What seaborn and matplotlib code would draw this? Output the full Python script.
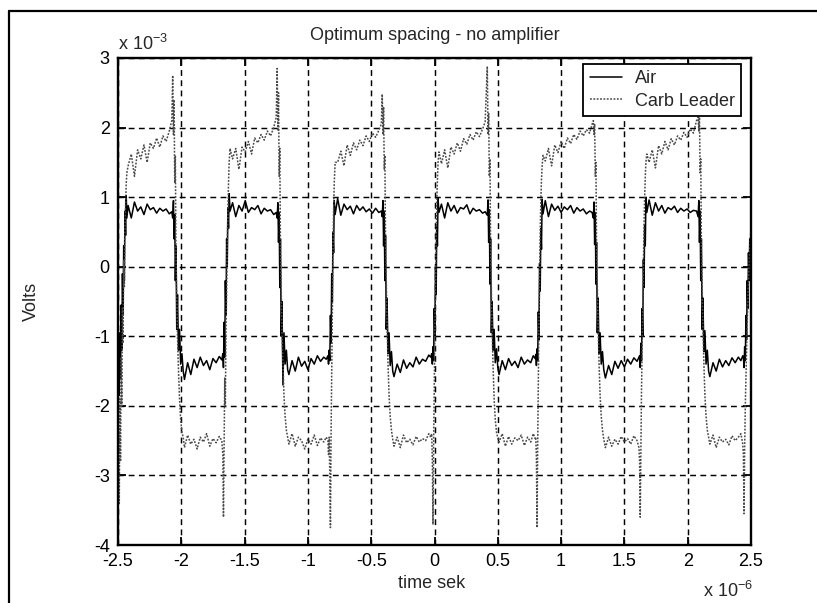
import numpy as np
import pandas as pd
import matplotlib
matplotlib.use("Agg")
import matplotlib.pyplot as plt
import seaborn as sns
from matplotlib.lines import Line2D

# ---------------- data ----------------
TITLE = "Optimum spacing - no amplifier"
X_LABEL = "time sek"
Y_LABEL = "Volts"
SERIES = ["Air", "Carb Leader"]
X_TICKS = [-2.5, -2.0, -1.5, -1.0, -0.5, 0.0, 0.5, 1.0, 1.5, 2.0, 2.5]
X_TICK_LABELS = ["-2.5", "-2", "-1.5", "-1", "-0.5", "0", "0.5", "1", "1.5", "2", "2.5"]
Y_TICKS = [-4, -3, -2, -1, 0, 1, 2, 3]
Y_TICK_LABELS = ["-4", "-3", "-2", "-1", "0", "1", "2", "3"]
X_EXPONENT = "-6"
Y_EXPONENT = "-3"

# time in microseconds (x 10^-6 s)
time_us = [
    -2.500, -2.495, -2.490, -2.485, -2.480, -2.475, -2.470, -2.465, -2.460, -2.455, -2.450, -2.445, -2.440, -2.435, -2.430,
    -2.420, -2.395, -2.370, -2.345, -2.320, -2.295, -2.270, -2.245, -2.220, -2.195, -2.170, -2.145, -2.120, -2.095, -2.075,
    -2.068, -2.062, -2.057, -2.052, -2.047, -2.042, -2.036, -2.030, -2.022, -2.014, -2.005, -1.995, -1.985,
    -1.975, -1.950, -1.925, -1.900, -1.875, -1.850, -1.825, -1.800, -1.775, -1.750, -1.725, -1.700, -1.680,
    -1.672, -1.667, -1.662, -1.657, -1.652, -1.647, -1.642, -1.637, -1.632, -1.627, -1.622, -1.615,
    -1.595, -1.570, -1.545, -1.520, -1.495, -1.470, -1.445, -1.420, -1.395, -1.370, -1.345, -1.320, -1.295, -1.270, -1.250,
    -1.243, -1.237, -1.232, -1.227, -1.222, -1.217, -1.211, -1.205, -1.197, -1.189, -1.180, -1.170, -1.160,
    -1.150, -1.125, -1.100, -1.075, -1.050, -1.025, -1.000, -0.975, -0.950, -0.925, -0.900, -0.875, -0.855,
    -0.842, -0.837, -0.832, -0.827, -0.822, -0.817, -0.812, -0.807, -0.802, -0.797, -0.792, -0.785,
    -0.765, -0.740, -0.715, -0.690, -0.665, -0.640, -0.615, -0.590, -0.565, -0.540, -0.515, -0.490, -0.465, -0.440, -0.420,
    -0.413, -0.407, -0.402, -0.397, -0.392, -0.387, -0.381, -0.375, -0.367, -0.359, -0.350, -0.340, -0.330,
    -0.320, -0.295, -0.270, -0.245, -0.220, -0.195, -0.170, -0.145, -0.120, -0.095, -0.070, -0.045, -0.030,
    -0.022, -0.017, -0.012, -0.007, -0.002, 0.003, 0.008, 0.013, 0.018, 0.023, 0.028, 0.035,
    0.055, 0.080, 0.105, 0.130, 0.155, 0.180, 0.205, 0.230, 0.255, 0.280, 0.305, 0.330, 0.355, 0.380, 0.400,
    0.417, 0.423, 0.428, 0.433, 0.438, 0.443, 0.449, 0.455, 0.463, 0.471, 0.480, 0.490, 0.500,
    0.510, 0.535, 0.560, 0.585, 0.610, 0.635, 0.660, 0.685, 0.710, 0.735, 0.760, 0.780, 0.795,
    0.800, 0.805, 0.810, 0.815, 0.820, 0.825, 0.830, 0.835, 0.840, 0.845, 0.850, 0.857,
    0.875, 0.900, 0.925, 0.950, 0.975, 1.000, 1.025, 1.050, 1.075, 1.100, 1.125, 1.150, 1.175, 1.200, 1.225, 1.245,
    1.255, 1.260, 1.265, 1.270, 1.275, 1.280, 1.286, 1.292, 1.300, 1.308, 1.317, 1.327, 1.337,
    1.350, 1.375, 1.400, 1.425, 1.450, 1.475, 1.500, 1.525, 1.550, 1.575, 1.600, 1.615,
    1.620, 1.625, 1.630, 1.635, 1.640, 1.645, 1.650, 1.655, 1.660, 1.665, 1.670, 1.677,
    1.695, 1.720, 1.745, 1.770, 1.795, 1.820, 1.845, 1.870, 1.895, 1.920, 1.945, 1.970, 1.995, 2.020, 2.045, 2.070,
    2.082, 2.088, 2.093, 2.098, 2.103, 2.108, 2.114, 2.120, 2.128, 2.136, 2.145, 2.155, 2.165,
    2.175, 2.200, 2.225, 2.250, 2.275, 2.300, 2.325, 2.350, 2.375, 2.400, 2.420, 2.435,
    2.440, 2.445, 2.450, 2.455, 2.460, 2.465, 2.470, 2.475, 2.480, 2.485, 2.490, 2.495, 2.500,
]

# voltage in millivolts (x 10^-3 V)
air_mv = [
    -1.75, -1.10, -1.85, -0.95, -1.60, -0.55, -1.20, -0.10, -0.70, 0.30, -0.20, 0.80, 0.45, 1.02, 0.70,
    0.88, 0.70, 0.93, 0.80, 0.86, 0.75, 0.90, 0.82, 0.85, 0.77, 0.84, 0.80, 0.83, 0.76, 0.79,
    0.70, 0.95, 0.40, 0.75, -0.20, 0.30, -0.90, -0.40, -1.20, -0.90, -1.40, -1.25, -1.50,
    -1.62, -1.38, -1.55, -1.33, -1.45, -1.30, -1.42, -1.35, -1.48, -1.32, -1.38, -1.29, -1.34,
    -1.25, -1.45, -0.80, -1.30, -0.20, -0.70, 0.40, 0.00, 0.85, 0.55, 1.05, 0.80,
    0.92, 0.72, 0.88, 0.80, 0.95, 0.78, 0.85, 0.82, 0.88, 0.76, 0.84, 0.80, 0.82, 0.75, 0.78,
    0.70, 0.92, 0.35, 0.78, -0.30, 0.40, -1.00, -0.50, -1.70, -0.95, -1.40, -1.20, -1.48,
    -1.55, -1.35, -1.50, -1.30, -1.43, -1.36, -1.48, -1.32, -1.40, -1.28, -1.36, -1.30, -1.33,
    -1.28, -1.40, -1.20, -1.35, -0.70, -1.10, -0.10, -0.50, 0.50, 0.20, 0.95, 0.75,
    0.98, 0.74, 0.90, 0.82, 0.87, 0.76, 0.88, 0.81, 0.86, 0.79, 0.83, 0.77, 0.84, 0.78, 0.80,
    0.72, 0.95, 0.30, 0.80, -0.20, 0.45, -0.90, -0.45, -1.25, -0.95, -1.42, -1.22, -1.50,
    -1.58, -1.40, -1.52, -1.34, -1.46, -1.38, -1.44, -1.30, -1.40, -1.33, -1.36, -1.27, -1.30,
    -1.25, -1.40, -1.15, -1.35, -0.60, -1.00, 0.00, -0.40, 0.60, 0.30, 0.98, 0.78,
    0.90, 0.70, 0.92, 0.80, 0.88, 0.77, 0.85, 0.83, 0.89, 0.76, 0.84, 0.80, 0.82, 0.77, 0.79,
    0.74, 0.96, 0.35, 0.82, -0.25, 0.40, -0.95, -0.50, -1.20, -0.90, -1.38, -1.18, -1.45,
    -1.55, -1.35, -1.48, -1.32, -1.42, -1.36, -1.45, -1.30, -1.40, -1.34, -1.38, -1.28, -1.32,
    -1.26, -1.42, -1.18, -1.35, -0.65, -1.05, 0.05, -0.35, 0.55, 0.25, 0.97, 0.76,
    0.95, 0.72, 0.90, 0.81, 0.87, 0.78, 0.86, 0.82, 0.88, 0.77, 0.85, 0.80, 0.83, 0.76, 0.80, 0.78,
    0.70, 0.93, 0.32, 0.78, -0.25, 0.35, -0.95, -0.45, -1.25, -0.95, -1.40, -1.22, -1.48,
    -1.60, -1.42, -1.55, -1.36, -1.46, -1.35, -1.44, -1.33, -1.40, -1.31, -1.36, -1.30,
    -1.28, -1.45, -1.10, -1.35, -0.60, -1.00, 0.10, -0.30, 0.60, 0.30, 1.00, 0.78,
    0.96, 0.74, 0.92, 0.80, 0.88, 0.77, 0.85, 0.82, 0.87, 0.78, 0.84, 0.80, 0.83, 0.78, 0.81, 0.80,
    0.72, 0.95, 0.35, 0.80, -0.20, 0.40, -0.90, -0.45, -1.22, -0.92, -1.40, -1.20, -1.50,
    -1.58, -1.38, -1.50, -1.33, -1.44, -1.35, -1.42, -1.31, -1.38, -1.30, -1.35, -1.28,
    -1.30, -1.45, -1.15, -1.35, -0.70, -1.05, -0.20, -0.60, 0.20, -0.20, 0.40, 0.10, 0.30,
]

carb_mv = [
    -3.10, -2.40, -3.40, -1.90, -2.80, -1.30, -2.00, -0.60, -1.10, 0.10, -0.30, 0.60, 0.90, 1.20, 1.35,
    1.45, 1.62, 1.30, 1.68, 1.55, 1.75, 1.50, 1.78, 1.70, 1.85, 1.72, 1.88, 1.80, 1.95, 2.10,
    2.75, 1.90, 2.40, 1.20, 1.60, 0.20, -0.40, -1.00, -1.50, -1.90, -2.20, -2.38, -2.45,
    -2.60, -2.42, -2.55, -2.48, -2.62, -2.45, -2.52, -2.40, -2.58, -2.47, -2.53, -2.44, -2.50,
    -2.70, -3.60, -2.60, -1.60, -2.00, -0.90, -0.40, 0.30, 0.80, 1.20, 1.50, 1.70,
    1.55, 1.70, 1.40, 1.72, 1.65, 1.80, 1.62, 1.85, 1.78, 1.90, 1.82, 1.95, 1.88, 2.00, 2.15,
    2.85, 1.95, 2.50, 1.30, 1.70, 0.30, -0.30, -0.90, -1.40, -1.85, -2.15, -2.35, -2.45,
    -2.55, -2.40, -2.58, -2.45, -2.50, -2.62, -2.48, -2.55, -2.42, -2.57, -2.46, -2.52, -2.45,
    -2.50, -2.70, -2.45, -3.00, -3.75, -2.40, -1.50, -0.70, 0.20, 0.80, 1.20, 1.50,
    1.50, 1.66, 1.45, 1.75, 1.60, 1.78, 1.68, 1.82, 1.74, 1.88, 1.80, 1.92, 1.86, 1.96, 2.05,
    2.48, 1.90, 2.30, 1.40, 1.60, 0.40, -0.20, -0.80, -1.40, -1.85, -2.15, -2.35, -2.48,
    -2.58, -2.45, -2.60, -2.42, -2.53, -2.48, -2.56, -2.44, -2.52, -2.47, -2.50, -2.40, -2.45,
    -2.40, -2.80, -3.70, -2.60, -1.70, -0.90, -0.20, 0.40, 0.90, 1.25, 1.50, 1.65,
    1.48, 1.68, 1.42, 1.72, 1.62, 1.78, 1.66, 1.84, 1.76, 1.90, 1.82, 1.94, 1.87, 1.98, 2.08,
    2.88, 1.90, 2.20, 1.30, 1.55, 0.30, -0.30, -0.90, -1.45, -1.90, -2.20, -2.38, -2.46,
    -2.52, -2.40, -2.58, -2.44, -2.55, -2.46, -2.50, -2.42, -2.57, -2.45, -2.52, -2.40, -2.47,
    -2.45, -2.75, -3.75, -2.55, -1.60, -0.80, -0.10, 0.50, 0.95, 1.25, 1.45, 1.60,
    1.52, 1.70, 1.45, 1.75, 1.64, 1.80, 1.70, 1.85, 1.77, 1.90, 1.83, 1.95, 1.88, 1.97, 1.92, 2.05,
    2.10, 1.90, 2.05, 1.30, 1.50, 0.30, -0.30, -0.85, -1.40, -1.85, -2.15, -2.35, -2.48,
    -2.60, -2.45, -2.58, -2.48, -2.55, -2.44, -2.52, -2.47, -2.55, -2.43, -2.50, -2.60,
    -2.80, -3.60, -2.70, -1.80, -1.20, -0.50, 0.10, 0.60, 1.00, 1.30, 1.50, 1.62,
    1.50, 1.68, 1.42, 1.74, 1.62, 1.80, 1.68, 1.84, 1.75, 1.88, 1.82, 1.93, 1.86, 1.98, 1.92, 2.10,
    2.15, 1.95, 2.15, 1.35, 1.55, 0.35, -0.25, -0.85, -1.40, -1.85, -2.15, -2.35, -2.45,
    -2.55, -2.42, -2.60, -2.45, -2.52, -2.48, -2.56, -2.43, -2.50, -2.45, -2.40, -2.55,
    -2.70, -3.55, -2.60, -2.00, -1.60, -1.20, -0.80, -0.50, -0.20, 0.00, 0.25, 0.40, 0.55,
]

assert len(time_us) == len(air_mv) == len(carb_mv), (len(time_us), len(air_mv), len(carb_mv))

n = len(time_us)
df = pd.DataFrame({
    "time": time_us + time_us,
    "volts": air_mv + carb_mv,
    "series": [SERIES[0]] * n + [SERIES[1]] * n,
})

# ---------------- style ----------------
sns.set_style("ticks")
plt.rcParams["font.family"] = ["Liberation Sans", "DejaVu Sans"]
plt.rcParams["mathtext.fontset"] = "custom"
plt.rcParams["mathtext.rm"] = "Liberation Sans"
plt.rcParams["mathtext.it"] = "Liberation Sans:italic"
plt.rcParams["mathtext.default"] = "regular"

W, H = 817, 603
fig = plt.figure(figsize=(W / 100, H / 100), dpi=100)
fig.patch.set_facecolor("white")
ax = fig.add_axes([118 / W, 1 - 545 / H, 633 / W, 487 / H])

sns.lineplot(
    data=df, x="time", y="volts", hue="series", style="series",
    hue_order=SERIES, style_order=SERIES,
    palette={SERIES[0]: "black", SERIES[1]: "#4a4a4a"},
    dashes={SERIES[0]: "", SERIES[1]: (1.2, 1.0)},
    estimator=None, sort=False, linewidth=1.1, legend=False, ax=ax,
)

ax.set_xlim(-2.5, 2.5)
ax.set_ylim(-4, 3)
ax.set_xticks(X_TICKS)
ax.set_xticklabels(X_TICK_LABELS)
ax.set_yticks(Y_TICKS)
ax.set_yticklabels(Y_TICK_LABELS)
ax.set_xlabel("")
ax.set_ylabel("")

ax.grid(True, color="black", linestyle=(0, (4, 3)), linewidth=1.05)
ax.set_axisbelow(True)
for s in ax.spines.values():
    s.set_visible(True)
    s.set_color("black")
    s.set_linewidth(1.7)
ax.tick_params(direction="in", length=6, width=1.3, top=True, right=True,
               labelsize=13, colors="black")
ax.tick_params(axis="x", pad=6)
ax.tick_params(axis="y", pad=6)

# legend
lines = ax.get_lines()[:2]
leg = ax.legend(lines, SERIES, loc="upper right",
                bbox_to_anchor=(1 - 10 / 633, 1 - 6 / 487),
                borderaxespad=0, fontsize=13, frameon=True, fancybox=False,
                edgecolor="black", framealpha=1, handlelength=1.8,
                handletextpad=0.7, labelspacing=0.3, borderpad=0.35)
leg.get_frame().set_linewidth(1.3)

# texts
ax.text(0.5, (545 - 40) / 487, TITLE, transform=ax.transAxes,
        ha="center", va="baseline", fontsize=13)
fig.text(432 / W, 1 - 588 / H, X_LABEL, ha="center", va="baseline", fontsize=13)
fig.text(31 / W, 1 - 301 / H, Y_LABEL, ha="center", va="center",
         rotation=90, fontsize=13)
fig.text(118 / W, 1 - 50 / H, "x 10$^{" + Y_EXPONENT + "}$",
         ha="left", va="baseline", fontsize=13)
fig.text(703 / W, 1 - 597 / H, "x 10$^{" + X_EXPONENT + "}$",
         ha="left", va="baseline", fontsize=13)

# outer scanned frame (left and top edges)
fig.add_artist(Line2D([9 / W, 9 / W], [0, 1 - 11 / H], transform=fig.transFigure,
                      color="black", linewidth=1.6))
fig.add_artist(Line2D([9 / W, 1], [1 - 11 / H, 1 - 11 / H], transform=fig.transFigure,
                      color="black", linewidth=1.6))

fig.savefig("out.png", dpi=100)
